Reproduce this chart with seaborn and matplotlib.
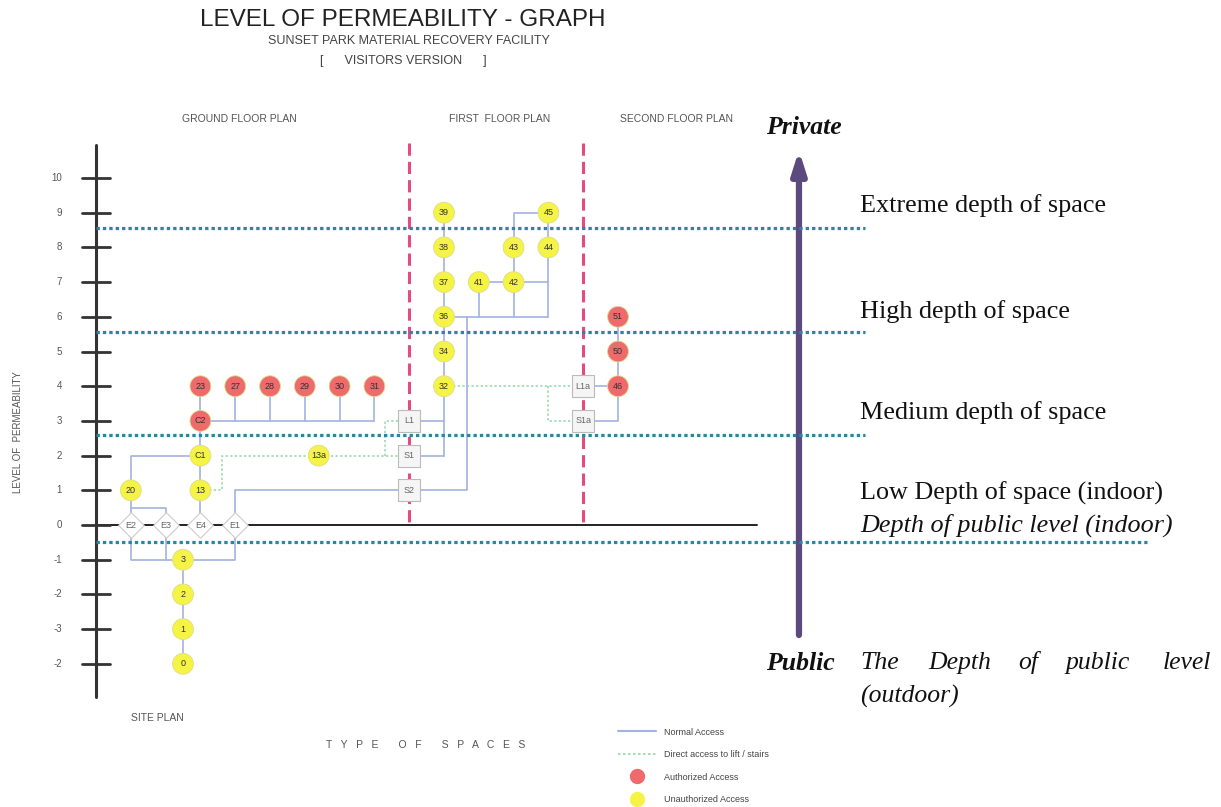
import seaborn as sns
import matplotlib.pyplot as plt
import pandas as pd
from matplotlib.lines import Line2D

# ---- data -------------------------------------------------------------
node_names = ['0', '1', '2', '3', 'E2', 'E3', 'E4', 'E1', '20', '13', 'C1', 'C2',
              '23', '27', '28', '29', '30', '31', '13a', 'S2', 'S1', 'L1',
              '32', '34', '36', '37', '38', '39', '41', '42', '43', '44', '45',
              'L1a', 'S1a', '46', '50', '51']
node_col = [2.5, 2.5, 2.5, 2.5, 1, 2, 3, 4, 1, 3, 3, 3,
            3, 4, 5, 6, 7, 8, 6.4, 9, 9, 9,
            10, 10, 10, 10, 10, 10, 11, 12, 12, 13, 13,
            14, 14, 15, 15, 15]
node_level = [-4, -3, -2, -1, 0, 0, 0, 0, 1, 1, 2, 3,
              4, 4, 4, 4, 4, 4, 2, 1, 2, 3,
              4, 5, 6, 7, 8, 9, 7, 7, 8, 8, 9,
              4, 3, 4, 5, 6]
node_kind = ['Unauthorized Access'] * 4 + ['entry'] * 4 + \
            ['Unauthorized Access'] * 3 + ['Authorized Access'] * 7 + \
            ['Unauthorized Access'] + ['lift'] * 3 + \
            ['Unauthorized Access'] * 11 + ['lift'] * 2 + ['Authorized Access'] * 3

normal_paths = [
    [(2.5, -4), (2.5, -1)],
    [(1, 0), (1, -1), (4, -1), (4, 0)],
    [(2, 0), (2, -1)],
    [(1, 0), (1, 2), (3, 2)],
    [(1, 0.5), (2, 0.5), (2, 0)],
    [(3, 0), (3, 4)],
    [(3, 3), (8, 3)],
    [(4, 3), (4, 4)], [(5, 3), (5, 4)], [(6, 3), (6, 4)], [(7, 3), (7, 4)], [(8, 3), (8, 4)],
    [(4, 0), (4, 1), (9, 1)],
    [(9, 1), (10.66, 1), (10.66, 6)],
    [(10, 6), (13, 6)],
    [(11, 6), (11, 7)], [(12, 6), (12, 7)],
    [(13, 6), (13, 8)],
    [(11, 7), (13, 7)],
    [(12, 7), (12, 9), (13, 9)],
    [(13, 9), (13, 8)],
    [(10, 2), (10, 9)],
    [(9, 2), (10, 2)], [(9, 3), (10, 3)],
    [(14, 4), (15, 4)],
    [(14, 3), (15, 3), (15, 4)],
    [(15, 4), (15, 6)],
]
lift_paths = [
    [(3, 1), (3.62, 1), (3.62, 2), (9, 2)],
    [(8.3, 2), (8.3, 3), (9, 3)],
    [(10, 4), (14, 4)],
    [(13, 4), (13, 3), (14, 3)],
]

level_ticks = [10, 9, 8, 7, 6, 5, 4, 3, 2, 1, 0, -1, -2, -3, -4]
level_labels = ['10', '9', '8', '7', '6', '5', '4', '3', '2', '1', '0', '-1', '-2', '-3', '-2']

depth_levels = [8.55, 5.55, 2.6, -0.5]
depth_ends = [22.1, 22.1, 22.1, 30.2]
depth_names = ['Extreme depth of space', 'High depth of space', 'Medium depth of space',
               'Low Depth of space (indoor)']

floor_dividers = [9, 14]

nodes = pd.DataFrame({'name': node_names, 'col': node_col, 'level': node_level, 'kind': node_kind})

# ---- figure -----------------------------------------------------------
sns.set_theme(style='white')
plt.rcParams['font.family'] = ['Liberation Sans', 'DejaVu Sans']

W, H = 1221, 807
X0, XU, Y0, YU = 96, 34.8, 525, 34.7

fig = plt.figure(figsize=(W / 100, H / 100), dpi=100)
ax = fig.add_axes([0, 0, 1, 1])
ax.set_xlim(-X0 / XU, (W - X0) / XU)
ax.set_ylim(-(H - Y0) / YU, Y0 / YU)
ax.axis('off')


def ftext(x, y, s, **kw):
    fig.text(x / W, 1 - y / H, s, **kw)


# level axis
ax.plot([0, 0], [10.95, -4.95], color='#333333', lw=2.2, zorder=2)
for lv, lb in zip(level_ticks, level_labels):
    ax.plot([-0.4, 0.4], [lv, lv], color='#333333', lw=2, zorder=2)
    ax.text(-0.98, lv, lb, ha='right', va='center', fontsize=7, color='#555555')
ax.plot([0, 19], [0, 0], color='#222222', lw=1.4, zorder=1)

# floor dividers
for xd in floor_dividers:
    ax.plot([xd, xd], [11.0, 0], color='#e54b80', lw=2.2, ls=(0, (4, 2)), zorder=1)

# access paths
for p in normal_paths:
    xs, ys = zip(*p)
    ax.plot(xs, ys, color='#a4b2e2', lw=1.2, zorder=3)
for p in lift_paths:
    xs, ys = zip(*p)
    ax.plot(xs, ys, color='#8fd8a8', lw=1.1, ls=(0, (1.5, 1.5)), zorder=3)

# depth bands
for lv, xe in zip(depth_levels, depth_ends):
    ax.plot([0, xe], [lv, lv], color='#2b84a0', lw=2.3, ls=(0, (1.05, 0.95)), zorder=5)

# nodes
circ = nodes[nodes['kind'].isin(['Authorized Access', 'Unauthorized Access'])]
sns.scatterplot(data=circ, x='col', y='level', hue='kind',
                palette={'Authorized Access': '#ee6a6c', 'Unauthorized Access': '#f5f445'},
                s=225, edgecolor='#dddd88', linewidth=0.6, legend=False, ax=ax, zorder=6)
sns.scatterplot(data=nodes[nodes['kind'] == 'lift'], x='col', y='level', marker='s',
                s=240, color='#f5f5f5', edgecolor='#bbbbbb', linewidth=0.8,
                legend=False, ax=ax, zorder=6)
sns.scatterplot(data=nodes[nodes['kind'] == 'entry'], x='col', y='level', marker='D',
                s=170, color='#ffffff', edgecolor='#cccccc', linewidth=0.8,
                legend=False, ax=ax, zorder=6)
for _, r in nodes.iterrows():
    c = '#666666' if r['kind'] in ('lift', 'entry') else '#333333'
    ax.text(r['col'], r['level'], r['name'], ha='center', va='center',
            fontsize=6.5, color=c, zorder=7)

# arrow private / public
ax.annotate('', xy=(20.2, 10.8), xytext=(20.2, -3.17),
            arrowprops=dict(arrowstyle='-|>,head_width=0.35,head_length=1.1',
                            color='#5c4a7e', lw=4.5, shrinkA=0, shrinkB=0), zorder=4)

# titles and labels
ftext(403, 20, 'LEVEL OF PERMEABILITY - GRAPH', ha='center', va='center', fontsize=17.5, color='#222222')
ftext(409, 41, 'SUNSET PARK MATERIAL RECOVERY FACILITY', ha='center', va='center', fontsize=9, color='#444444')
ftext(403, 61, '[      VISITORS VERSION      ]', ha='center', va='center', fontsize=9, color='#444444')
ftext(239, 119, 'GROUND FLOOR PLAN', ha='center', va='center', fontsize=7.5, color='#555555')
ftext(500, 119, 'FIRST  FLOOR PLAN', ha='center', va='center', fontsize=7.5, color='#555555')
ftext(677, 119, 'SECOND FLOOR PLAN', ha='center', va='center', fontsize=7.5, color='#555555')
ftext(18, 432, 'LEVEL OF  PERMEABILITY', ha='center', va='center', rotation=90, fontsize=7, color='#555555')
ftext(157, 718, 'SITE PLAN', ha='center', va='center', fontsize=7.5, color='#555555')
ftext(426, 745, 'T   Y   P   E       O   F       S   P   A   C   E   S', ha='center', va='center',
      fontsize=7.5, color='#555555')

serif = ['Liberation Serif', 'DejaVu Serif']
ftext(804, 127, 'Private', ha='center', va='center', fontsize=18.5, family=serif,
      weight='bold', style='italic', color='#111111')
ftext(800, 663, 'Public', ha='center', va='center', fontsize=18.5, family=serif,
      weight='bold', style='italic', color='#111111')
for yy, s in zip([206, 312, 413, 493], depth_names):
    ftext(860, yy, s, ha='left', va='center', fontsize=18.8, family=serif, color='#111111')
ftext(860, 525, 'Depth of public level (indoor)', ha='left', va='center', fontsize=18.8,
      family=serif, style='italic', color='#111111')
for xx, w in zip([860, 928, 1018, 1066, 1163], ['The', 'Depth', 'of', 'public', 'level']):
    ftext(xx, 663, w, ha='left', va='center', fontsize=18.5, family=serif, style='italic', color='#111111')
ftext(860, 696, '(outdoor)', ha='left', va='center', fontsize=18.5, family=serif,
      style='italic', color='#111111')

# legend
handles = [Line2D([], [], color='#a4b2e2', lw=1.5),
           Line2D([], [], color='#8fd8a8', lw=1.2, ls=(0, (1.5, 1.5))),
           Line2D([], [], ls='', marker='o', ms=10, color='#ee6a6c', mec='#ee6a6c'),
           Line2D([], [], ls='', marker='o', ms=10, color='#f5f445', mec='#f5f445')]
labels = ['Normal Access', 'Direct access to lift / stairs', 'Authorized Access', 'Unauthorized Access']
fig.legend(handles, labels, loc='upper left', bbox_to_anchor=(613 / W, 1 - 723 / H),
           frameon=False, fontsize=6.5, handlelength=4.3, labelspacing=1.5,
           handletextpad=0.9, borderpad=0, labelcolor='#444444')

fig.savefig('out.png', dpi=100)
